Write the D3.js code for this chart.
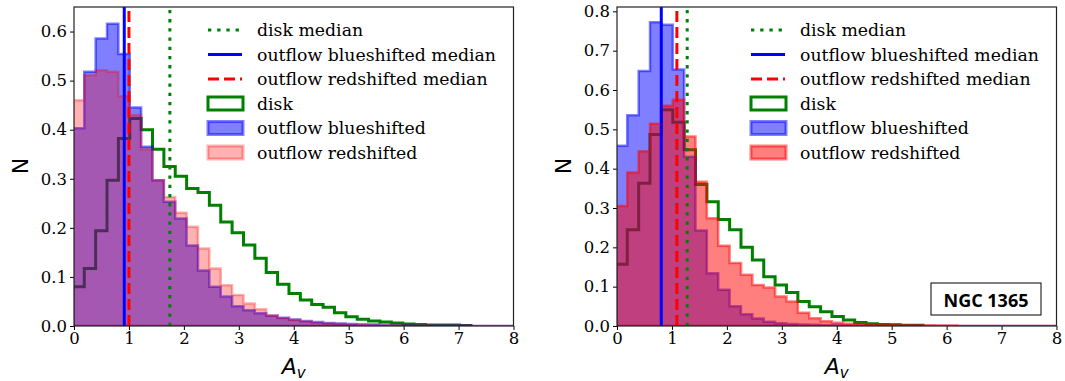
<!DOCTYPE html>
<html>
<head>
<meta charset="utf-8">
<script src="https://cdn.jsdelivr.net/npm/d3@7"></script>
<style>
  body { margin: 0; background: #fff; }
  svg { display: block; }
</style>
</head>
<body>
<div id="vis"></div>
<script>
// histogram bins (A_v), shared by both panels
var binStart = -0.02,
    binWidth = 0.207;

// left panel
var leftDisk = [0.080, 0.117, 0.194, 0.297, 0.382, 0.423, 0.400, 0.360, 0.325, 0.305,
  0.280, 0.272, 0.246, 0.212, 0.190, 0.165, 0.138, 0.109, 0.085, 0.066,
  0.053, 0.044, 0.038, 0.027, 0.019, 0.014, 0.010, 0.008, 0.006, 0.004,
  0.003, 0.002, 0.002, 0.002, 0.001];
var leftBlue = [0.403, 0.518, 0.586, 0.616, 0.554, 0.445, 0.365, 0.297, 0.253, 0.219,
  0.164, 0.113, 0.080, 0.060, 0.040, 0.032, 0.026, 0.021, 0.017, 0.013,
  0.010, 0.008, 0.006, 0.005, 0.004, 0.003, 0.003, 0.002, 0.002, 0.002,
  0.001, 0.001, 0.001, 0.001, 0.001, 0, 0, 0, 0, 0];
var leftRed = [0.460, 0.511, 0.521, 0.518, 0.468, 0.430, 0.360, 0.297, 0.263, 0.231,
  0.202, 0.158, 0.117, 0.083, 0.063, 0.046, 0.034, 0.022, 0.016, 0.012,
  0.009, 0.006, 0.005, 0.004, 0.003, 0.003, 0.002, 0.002, 0.002, 0.001,
  0.001, 0.001, 0.001, 0.001, 0.001, 0, 0, 0, 0, 0];
var leftMedians = [1.745, 0.915, 1.0]; // disk, blue, red

// right panel
var rightDisk = [0.157, 0.245, 0.363, 0.487, 0.550, 0.518, 0.448, 0.360, 0.316, 0.271,
  0.245, 0.200, 0.168, 0.125, 0.104, 0.085, 0.062, 0.049, 0.036, 0.024,
  0.015, 0.009, 0.006, 0.004, 0.003, 0.002, 0.002];
var rightBlue = [0.458, 0.536, 0.648, 0.772, 0.766, 0.652, 0.430, 0.243, 0.134, 0.092,
  0.050, 0.030, 0.019, 0.011, 0.007, 0.005, 0.004, 0.003, 0.002, 0.002,
  0.001, 0.001, 0, 0, 0, 0, 0, 0, 0, 0,
  0, 0, 0, 0, 0, 0, 0, 0, 0, 0];
var rightRed = [0.305, 0.390, 0.444, 0.514, 0.560, 0.575, 0.482, 0.367, 0.274, 0.204,
  0.160, 0.130, 0.104, 0.098, 0.075, 0.062, 0.034, 0.020, 0.012, 0.008,
  0.006, 0.005, 0.004, 0.003, 0.003, 0.002, 0.002, 0.002, 0.001, 0.001,
  0, 0, 0, 0, 0, 0, 0, 0, 0, 0];
var rightMedians = [1.278, 0.806, 1.09];

var xTicks = [0, 1, 2, 3, 4, 5, 6, 7, 8];
var leftYTicks = [0.0, 0.1, 0.2, 0.3, 0.4, 0.5, 0.6];
var rightYTicks = [0.0, 0.1, 0.2, 0.3, 0.4, 0.5, 0.6, 0.7, 0.8];
var legendLabels = ['disk median', 'outflow blueshifted median', 'outflow redshifted median',
  'disk', 'outflow blueshifted', 'outflow redshifted'];

var width = 1065,
    height = 381;

var svg = d3.select('#vis')
  .append('svg')
    .attr('width', width)
    .attr('height', height);

function binPoints(vals) {
  var pts = vals.map(function(v, i) {
    return [binStart + i * binWidth, v];
  });
  pts.push([binStart + vals.length * binWidth, vals[vals.length - 1]]);
  return pts;
}

function drawPanel(opt) {
  var x = d3.scaleLinear().domain([0, 8]).range([opt.left, opt.right]);
  var y = d3.scaleLinear().domain([0, opt.yMax]).range([326, 7]);

  var clipId = 'clip' + opt.id;
  svg.append('clipPath').attr('id', clipId)
    .append('rect')
      .attr('x', opt.left).attr('y', 7)
      .attr('width', opt.right - opt.left).attr('height', 319);

  var g = svg.append('g').attr('clip-path', 'url(#' + clipId + ')');

  // disk: step outline only
  var diskPts = binPoints(opt.disk);
  diskPts.unshift([binStart, 0]);
  diskPts.push([binStart + opt.disk.length * binWidth, 0]);
  var line = d3.line()
    .curve(d3.curveStepAfter)
    .x(function(d) { return x(d[0]); })
    .y(function(d) { return y(d[1]); });
  g.append('path')
    .attr('d', line(diskPts))
    .attr('fill', 'none')
    .attr('stroke', 'green')
    .attr('stroke-width', 3);

  var area = d3.area()
    .curve(d3.curveStepAfter)
    .x(function(d) { return x(d[0]); })
    .y0(y(0))
    .y1(function(d) { return y(d[1]); });

  // blue then red stepfilled
  [[opt.blue, 'blue', 0.5], [opt.red, 'red', opt.redAlpha]].forEach(function(s) {
    g.append('path')
      .attr('d', area(binPoints(s[0])))
      .attr('fill', s[1])
      .attr('fill-opacity', s[2])
      .attr('stroke', s[1])
      .attr('stroke-opacity', s[2])
      .attr('stroke-width', 2.5)
      .attr('stroke-linejoin', 'miter');
  });

  // medians
  var medStyles = [
    { color: 'green', dash: '3.3,5.9' },
    { color: 'blue', dash: null },
    { color: 'red', dash: '11,5' }
  ];
  opt.medians.forEach(function(m, i) {
    g.append('line')
      .attr('x1', x(m)).attr('x2', x(m))
      .attr('y1', y(0)).attr('y2', 7)
      .attr('stroke', medStyles[i].color)
      .attr('stroke-width', 3)
      .attr('stroke-dasharray', medStyles[i].dash);
  });

  // axes
  var xAxis = svg.append('g')
    .attr('transform', 'translate(0,326)')
    .call(d3.axisBottom(x).tickValues(xTicks).tickSize(4).tickPadding(2)
      .tickFormat(d3.format('d')));
  var yAxis = svg.append('g')
    .attr('transform', 'translate(' + opt.left + ',0)')
    .call(d3.axisLeft(y).tickValues(opt.yTicks).tickSize(4).tickPadding(3)
      .tickFormat(d3.format('.1f')));
  [xAxis, yAxis].forEach(function(a) {
    a.select('.domain').remove();
    a.selectAll('text')
      .style('font-family', 'DejaVu Serif')
      .style('font-size', '16.5px')
      .attr('fill', '#000');
    a.selectAll('line').attr('stroke', '#000');
  });

  // frame
  svg.append('rect')
    .attr('x', opt.left).attr('y', 7)
    .attr('width', opt.right - opt.left).attr('height', 319)
    .attr('fill', 'none')
    .attr('stroke', '#222')
    .attr('stroke-width', 1.2);

  // axis labels
  svg.append('text')
    .attr('x', opt.left - 52).attr('y', 166)
    .attr('text-anchor', 'middle')
    .attr('dominant-baseline', 'middle')
    .attr('transform', 'rotate(-90,' + (opt.left - 52) + ',166)')
    .style('font-family', 'DejaVu Sans')
    .style('font-size', '22px')
    .text('N');

  var xl = svg.append('text')
    .attr('x', (opt.left + opt.right) / 2).attr('y', 374)
    .attr('text-anchor', 'middle')
    .style('font-family', 'DejaVu Sans')
    .style('font-size', '22px')
    .style('font-style', 'italic');
  xl.append('tspan').text('A');
  xl.append('tspan').attr('dy', 4).style('font-size', '15px').text('v');

  // legend
  var lx = opt.left + 134;
  legendLabels.forEach(function(lab, i) {
    var ly = 30 + 24.5 * i;
    if (i < 3) {
      svg.append('line')
        .attr('x1', lx).attr('x2', lx + 34)
        .attr('y1', ly).attr('y2', ly)
        .attr('stroke', medStyles[i].color)
        .attr('stroke-width', 3)
        .attr('stroke-dasharray', medStyles[i].dash);
    } else {
      var c = ['green', 'blue', 'red'][i - 3];
      var a = [1, 0.5, opt.redAlpha][i - 3];
      svg.append('rect')
        .attr('x', lx).attr('y', ly - 6.5)
        .attr('width', 35).attr('height', 13)
        .attr('fill', i === 3 ? 'none' : c)
        .attr('fill-opacity', a)
        .attr('stroke', c)
        .attr('stroke-opacity', a)
        .attr('stroke-width', 3);
    }
    svg.append('text')
      .attr('x', lx + 49).attr('y', ly)
      .attr('dominant-baseline', 'central')
      .style('font-family', 'DejaVu Serif')
      .style('font-size', '17.3px')
      .text(lab);
  });
}

drawPanel({ id: 'L', left: 74, right: 513.5, yMax: 0.65, yTicks: leftYTicks,
  disk: leftDisk, blue: leftBlue, red: leftRed, redAlpha: 0.3, medians: leftMedians });
drawPanel({ id: 'R', left: 617, right: 1056.5, yMax: 0.811, yTicks: rightYTicks,
  disk: rightDisk, blue: rightBlue, red: rightRed, redAlpha: 0.5, medians: rightMedians });

// galaxy name box
svg.append('rect')
  .attr('x', 931).attr('y', 283)
  .attr('width', 110).attr('height', 32)
  .attr('fill', '#fff')
  .attr('stroke', '#000')
  .attr('stroke-width', 1);
svg.append('text')
  .attr('x', 986).attr('y', 299.5)
  .attr('text-anchor', 'middle')
  .attr('dominant-baseline', 'central')
  .style('font-family', 'Open Sans')
  .style('font-weight', 700)
  .style('font-size', '18px')
  .text('NGC 1365');
</script>
</body>
</html>
